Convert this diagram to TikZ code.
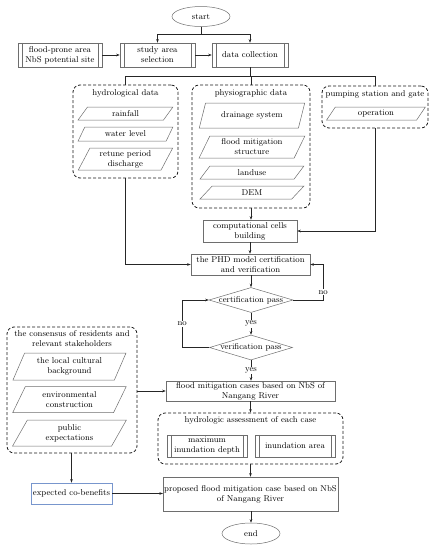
\documentclass[tikz,border=0pt]{standalone}
\usepackage{tikz}
\usetikzlibrary{arrows.meta,calc,fit,positioning,shapes.geometric}
\definecolor{boxgray}{RGB}{110,110,110}
\definecolor{cobblue}{RGB}{120,150,205}
\tikzset{
	flow chart/.style={
		x=1pt, y=-1pt,
		font=\fontsize{8.5}{10}\selectfont,
		every node/.style={align=center, inner sep=1pt},
		ar/.style={-{Stealth[length=3.5pt,width=2.5pt]}},
		line width=.5pt,
		draw=black!85
		},
	box/.style={draw=boxgray, rectangle, minimum width=#1, minimum height=22},
	box/.default=80,
	proc/.style={box=#1,
		prefix after command={\pgfextra{\let\fixname\tikzlastnode}},
		append after command={\pgfextra{\draw[boxgray]
			([xshift=4.5pt]\fixname.north west) -- ([xshift=4.5pt]\fixname.south west)
			([xshift=-4.5pt]\fixname.north east) -- ([xshift=-4.5pt]\fixname.south east);}}},
	proc/.default=80,
	io/.style={draw=boxgray, trapezium, trapezium left angle=66, trapezium right angle=114,
		trapezium stretches=true, minimum width=#1},
	io/.default=95,
	term/.style={draw=boxgray, ellipse, minimum width=58, minimum height=20},
	test/.style={draw=boxgray, diamond, aspect=3.4, inner sep=0pt, minimum width=84, minimum height=25},
	grp/.style={draw=black!90, line width=.8pt, dash pattern=on 3pt off 2pt, rounded corners=7pt, inner sep=0pt},
	grp name/.style={anchor=north, inner sep=0pt},
	lbl/.style={fill=white, inner sep=1pt}
}

\begin{document}
\begin{tikzpicture}[flow chart]
   \useasboundingbox (0,0) rectangle (433,550);
   \node[term] (S) at (201,16.5) {start};
   \node[proc=84, minimum height=24] (F) at (60,55) {flood-prone area\\NbS potential site};
   \node[proc=75, minimum height=24] (A) at (157.5,55) {study area\\selection};
   \node[proc=76, minimum height=24] (D) at (250,55) {data collection};
   \coordinate (s1) at (201,34);
   \coordinate (d1) at (250,76);
   \draw (S.south) -- (s1);
   \draw[ar] (s1) -| (A.north);
   \draw[ar] (s1) -| (D.north);
   \draw[ar] (F) -- (A);
   \draw[ar] (A) -- (D);

   \node[grp, fit={(73,85) (178,178)}] (H) {};
   \node[grp name] (Ht) at ([yshift=-5pt]H.north) {hydrological data};
   \node[io, minimum height=13] (H1) at (125.5,113.5) {rainfall};
   \node[io, minimum height=14] (H2) at (125.5,134) {water level};
   \node[io, minimum height=22] (H3) at (125.5,159) {retune period\\discharge};

   \node[grp, fit={(192,85) (310,208)}] (P) {};
   \node[grp name] (Pt) at ([yshift=-5pt]P.north) {physiographic data};
   \node[io=106, minimum height=25] (P1) at (252,115.5) {drainage system};
   \node[io=106, minimum height=22] (P2) at (252,147) {flood mitigation\\structure};
   \node[io=104, minimum height=13] (P3) at (252,172.5) {landuse};
   \node[io=104, minimum height=13] (P4) at (252,192.5) {DEM};

   \node[grp, fit={(322,86) (428,128)}] (W) {};
   \node[grp name] (Wt) at ([yshift=-5pt]W.north) {pumping station and gate};
   \node[io=99, minimum height=13] (W1) at (376,113.5) {operation};

   \draw (D.south) -- (d1);
   \draw (d1) -| (H.north);
   \draw (d1) -| (P.north);
   \draw (d1) -| (W.north);

   \node[box=94] (C) at (250,231) {computational cells\\building};
   \node[box=119, minimum height=21] (M) at (250.5,264.5) {the PHD model certification\\and verification};
   \draw[ar] (P.south) -- (P.south |- C.north);
   \draw[ar] (W.south) |- (C.east);
   \draw[ar] (C) -- (C |- M.north);
   \draw[ar] (H.south) |- (M.west);

   \node[test] (Q1) at (251,300) {\makebox[30pt]{certification pass}};
   \node[test, minimum width=83] (Q2) at (251,347.5) {\makebox[30pt]{verification pass}};
   \draw[ar] (M.south -| Q1.north) -- (Q1.north);
   \draw[ar] (Q1.east) -- ++(30,0) |- node[lbl, pos=.11] {no} (M.east);
   \draw[ar] (Q1.south) -- node[lbl] {yes} (Q2.north);
   \draw[ar] (Q2.west) -- ++(-27,0) |- node[lbl, pos=.25] {no} (Q1.west);

   \node[box=169, minimum height=20] (N) at (250.5,391) {flood mitigation cases based on NbS of\\Nangang River};
   \draw[ar] (Q2.south) -- node[lbl] {yes} (Q2.south |- N.north);

   \node[grp, fit={(7,327) (137,453)}] (K) {};
   \node[grp name] (Kt) at ([yshift=-4pt]K.north) {the consensus of residents and\\relevant stakeholders};
   \node[io=114, minimum height=27] (K1) at (69.5,366.5) {the local cultural\\background};
   \node[io=114, minimum height=26] (K2) at (69.5,399.5) {environmental\\construction};
   \node[io=114, minimum height=26] (K3) at (69.5,433) {public\\expectations};
   \draw[ar] (K.east |- N.west) -- (N.west);

   \node[grp, fit={(158,413) (343,464)}] (G) {};
   \node[grp name] (Gt) at ([yshift=-4pt]G.north) {hydrologic assessment of each case};
   \node[proc=80] (G1) at (207,446) {maximum\\inundation depth};
   \node[proc=80] (G2) at (295,446) {inundation area};
   \draw[ar] (N.south) -- (N.south |- G.north);

   \node[box=169, minimum height=34] (R) at (250.5,494) {proposed flood mitigation case based on NbS\\of Nangang River};
   \node[box=81, minimum height=21, draw=cobblue] (B) at (71.5,493.5) {expected co-benefits};
   \draw[ar] (G.south) -- (G.south |- R.north);
   \draw[ar] (K.south -| B.north) -- (B.north);
   \draw[ar] (B.east) -- (B.east -| R.west);

   \node[term, minimum height=21] (E) at (251,533.5) {end};
   \draw[ar] (R.south -| E.north) -- (E.north);
\end{tikzpicture}
\end{document}
